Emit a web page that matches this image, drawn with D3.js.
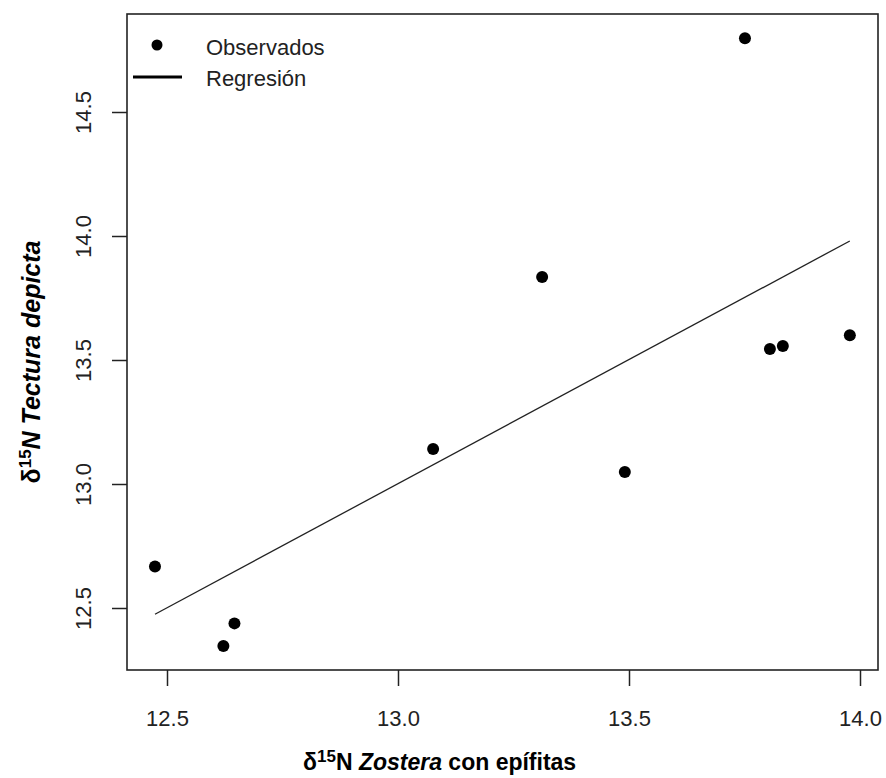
<!DOCTYPE html>
<html>
<head>
<meta charset="utf-8">
<script src="https://cdn.jsdelivr.net/npm/d3@7"></script>
<style>
  html, body { margin: 0; padding: 0; background: #fff; }
  svg { display: block; font-family: "Liberation Sans", Arial, sans-serif; }
</style>
</head>
<body>
<svg id="chart" width="886" height="778"></svg>
<script>
// δ15N of Zostera (with epiphytes) vs δ15N of Tectura depicta
const zostera = [12.474, 12.622, 12.646, 13.076, 13.312, 13.491, 13.751, 13.805, 13.833, 13.978];
const tectura = [12.667, 12.347, 12.438, 13.141, 13.835, 13.048, 14.797, 13.544, 13.556, 13.600];

// fitted regression line, endpoints over the observed x range
const regX = [12.474, 13.978];
const regY = [12.475, 13.980];

const xTicks = [12.5, 13.0, 13.5, 14.0];
const yTicks = [12.5, 13.0, 13.5, 14.0, 14.5];
const legendLabels = ["Observados", "Regresión"];

const svg = d3.select("#chart");
const box = { left: 127, top: 14, right: 878, bottom: 670 };

const x = d3.scaleLinear().domain([12.5, 14.0]).range([167, 860]);
const y = d3.scaleLinear().domain([12.5, 14.5]).range([608, 112]);

const fmt = d3.format(".1f");
const tickColor = "#222";

// x axis
const gx = svg.append("g")
  .attr("transform", `translate(0,${box.bottom})`)
  .call(d3.axisBottom(x).tickValues(xTicks).tickSize(16).tickFormat(fmt));
gx.select(".domain").remove();
gx.selectAll(".tick line").attr("stroke", "#222").attr("stroke-width", 1.5);
gx.selectAll(".tick text")
  .attr("y", 48).attr("dy", "0.35em")
  .attr("font-size", 22).attr("fill", tickColor)
  .attr("font-family", "Liberation Sans, Arial, sans-serif");

// y axis with rotated labels
const gy = svg.append("g")
  .attr("transform", `translate(${box.left},0)`)
  .call(d3.axisLeft(y).tickValues(yTicks).tickSize(15).tickFormat(fmt));
gy.select(".domain").remove();
gy.selectAll(".tick line").attr("stroke", "#222").attr("stroke-width", 1.5);
gy.selectAll(".tick text")
  .attr("x", null).attr("dy", null)
  .attr("transform", "translate(-44,0) rotate(-90)")
  .attr("text-anchor", "middle")
  .attr("dy", "0.35em")
  .attr("font-size", 22).attr("fill", tickColor)
  .attr("font-family", "Liberation Sans, Arial, sans-serif");

// plot frame
svg.append("rect")
  .attr("x", box.left).attr("y", box.top)
  .attr("width", box.right - box.left).attr("height", box.bottom - box.top)
  .attr("fill", "none").attr("stroke", "#222").attr("stroke-width", 1.6);

// regression line
svg.append("line")
  .attr("x1", x(regX[0])).attr("y1", y(regY[0]))
  .attr("x2", x(regX[1])).attr("y2", y(regY[1]))
  .attr("stroke", "#222").attr("stroke-width", 1.3);

// observed points
svg.append("g").selectAll("circle")
  .data(zostera.map((v, i) => [v, tectura[i]]))
  .join("circle")
  .attr("cx", d => x(d[0])).attr("cy", d => y(d[1]))
  .attr("r", 6).attr("fill", "#000");

// legend
const lg = svg.append("g");
lg.append("circle").attr("cx", 157).attr("cy", 45).attr("r", 5.5).attr("fill", "#000");
lg.append("line").attr("x1", 133).attr("x2", 182).attr("y1", 77).attr("y2", 77)
  .attr("stroke", "#000").attr("stroke-width", 3);
lg.selectAll("text").data(legendLabels).join("text")
  .attr("x", 206).attr("y", (d, i) => 47 + i * 31).attr("dy", "0.35em")
  .attr("font-size", 22).attr("fill", "#222")
  .text(d => d);

// x axis title
const xt = svg.append("text")
  .attr("x", 303).attr("y", 762).attr("dy", "0.35em")
  .attr("font-size", 23).attr("font-weight", "bold").attr("fill", "#000");
xt.append("tspan").text("δ");
xt.append("tspan").attr("font-size", 17).attr("dy", "-0.5em").text("15");
xt.append("tspan").attr("dy", "0.37em").text("N ");
xt.append("tspan").attr("font-style", "italic").text("Zostera");
xt.append("tspan").text(" con epífitas");

// y axis title
const yt = svg.append("text")
  .attr("transform", "translate(31,362) rotate(-90)")
  .attr("text-anchor", "middle").attr("dy", "0.35em")
  .attr("font-size", 25).attr("font-weight", "bold").attr("fill", "#000");
yt.append("tspan").text("δ");
yt.append("tspan").attr("font-size", 17).attr("dy", "-0.5em").text("15");
yt.append("tspan").attr("dy", "0.34em").attr("font-style", "italic").text("N Tectura depicta");
</script>
</body>
</html>
